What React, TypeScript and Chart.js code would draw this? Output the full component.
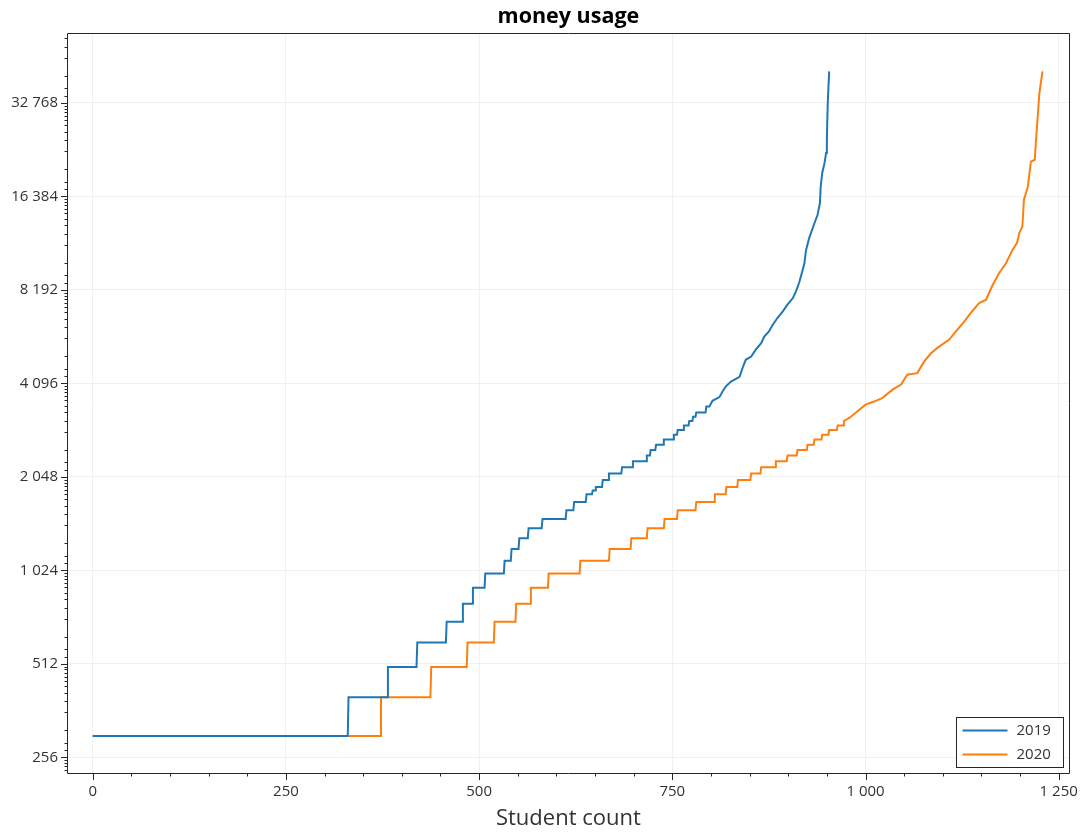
import React, { useEffect, useRef } from 'react';
import { Chart, registerables } from 'chart.js';

Chart.register(...registerables);

const chartTitle = 'money usage';
const xAxisTitle = 'Student count';
const seriesLabels = ['2019', '2020'];
const seriesColors = ['#1f77b4', '#ff7f0e'];

const students2019 = [0, 330, 331, 381, 382, 419, 420, 457, 458, 478, 479, 491, 492, 507, 508, 532, 533, 541, 542, 551, 552, 563, 564, 581, 582, 612, 613, 622, 623, 638, 639, 646, 647, 650, 651, 659, 660, 667, 668, 684, 685, 698, 699, 716, 717, 721, 722, 728, 729, 738, 739, 751, 752, 756, 757, 764, 765, 771, 772, 776, 777, 780, 781, 793, 794, 798, 802, 811, 815, 819, 826, 837, 841, 845, 852, 858, 865, 869, 875, 880, 886, 893, 899, 906, 910, 914, 917, 921, 923, 927, 934, 938, 941, 942, 944, 947, 949, 950, 951, 952, 953];
const money2019 = [300, 300, 400, 400, 500, 500, 600, 600, 700, 700, 800, 800, 900, 900, 1000, 1000, 1100, 1100, 1200, 1200, 1300, 1300, 1400, 1400, 1500, 1500, 1600, 1600, 1700, 1700, 1800, 1800, 1850, 1850, 1900, 1900, 2000, 2000, 2100, 2100, 2200, 2200, 2300, 2300, 2400, 2400, 2500, 2500, 2600, 2600, 2700, 2700, 2800, 2800, 2900, 2900, 3000, 3000, 3100, 3100, 3200, 3200, 3300, 3300, 3450, 3450, 3600, 3700, 3860, 4000, 4150, 4300, 4600, 4880, 5000, 5260, 5520, 5800, 6020, 6330, 6650, 6990, 7340, 7710, 8100, 8620, 9170, 10000, 11000, 12000, 13450, 14300, 15600, 17600, 19500, 21000, 22600, 25000, 32000, 36600, 41400];

const students2020 = [0, 372, 373, 437, 438, 484, 485, 519, 520, 547, 548, 566, 567, 589, 590, 630, 631, 668, 669, 696, 697, 717, 718, 739, 740, 756, 757, 780, 781, 804, 805, 819, 820, 834, 835, 851, 852, 864, 865, 883, 884, 898, 899, 911, 912, 924, 925, 933, 934, 943, 944, 952, 953, 963, 964, 971, 972, 979, 992, 1000, 1011, 1022, 1035, 1046, 1054, 1067, 1076, 1085, 1093, 1108, 1117, 1128, 1136, 1147, 1156, 1164, 1173, 1182, 1184, 1190, 1196, 1199, 1203, 1205, 1210, 1214, 1219, 1221, 1225, 1229];
const money2020 = [300, 300, 400, 400, 500, 500, 600, 600, 700, 700, 800, 800, 900, 900, 1000, 1000, 1100, 1100, 1200, 1200, 1300, 1300, 1400, 1400, 1500, 1500, 1600, 1600, 1700, 1700, 1800, 1800, 1900, 1900, 2000, 2000, 2100, 2100, 2200, 2200, 2300, 2300, 2400, 2400, 2500, 2500, 2600, 2600, 2700, 2700, 2800, 2800, 2900, 2900, 3000, 3000, 3100, 3170, 3370, 3500, 3580, 3680, 3910, 4060, 4370, 4420, 4820, 5130, 5330, 5660, 6020, 6490, 6900, 7430, 7620, 8450, 9290, 10000, 10250, 11000, 11600, 12500, 13100, 16000, 17600, 21200, 21500, 25600, 35300, 41400];

const xTicks = [0, 250, 500, 750, 1000, 1250];
const xMinorStep = 50;
const yTicks = [256, 512, 1024, 2048, 4096, 8192, 16384, 32768];
const xRange = [-32, 1263];
const yRange = [228, 54700];

const FONT = "'Open Sans', 'Noto Sans', sans-serif";
const TEXT = '#333333';
const FRAME = '#262626';

const fmt = (v: number) => Math.round(v).toString().replace(/\B(?=(\d{3})+(?!\d))/g, ' ');

// fractional log2 positions of minor tick marks between major ticks
const minorFractions = [0.075, 0.157, 0.29, 0.485, 0.6, 0.69, 0.76, 0.82, 0.865, 0.905, 0.94, 0.968];

const framePlugin = {
  id: 'frameAndTicks',
  afterDraw(chart: any) {
    const { ctx, chartArea } = chart;
    const { left, right, top, bottom } = chartArea;
    const xs = chart.scales.x;
    const ys = chart.scales.y;
    ctx.save();
    ctx.strokeStyle = FRAME;
    ctx.lineWidth = 1;
    ctx.beginPath();
    ctx.rect(Math.round(left) - 0.5, Math.round(top) - 0.5, Math.round(right - left) + 1, Math.round(bottom - top) + 1);
    ctx.stroke();
    ctx.beginPath();
    // x ticks
    for (let v = Math.ceil(xs.min / xMinorStep) * xMinorStep; v <= xs.max; v += xMinorStep) {
      const px = Math.round(xs.getPixelForValue(v)) + 0.5;
      const major = xTicks.includes(v);
      ctx.moveTo(px, bottom);
      ctx.lineTo(px, bottom + (major ? 7 : 3.5));
    }
    // y ticks
    for (let k = 7; k <= 16; k++) {
      const base = Math.pow(2, k);
      if (base >= ys.min && base <= ys.max) {
        const py = Math.round(ys.getPixelForValue(base)) + 0.5;
        ctx.moveTo(left, py);
        ctx.lineTo(left - 7, py);
      }
      for (const f of minorFractions) {
        const v = Math.pow(2, k + f);
        if (v >= ys.min && v <= ys.max) {
          const py = Math.round(ys.getPixelForValue(v)) + 0.5;
          ctx.moveTo(left, py);
          ctx.lineTo(left - 3.5, py);
        }
      }
    }
    ctx.stroke();

    // legend
    const bw = 107, bh = 50;
    const bx = Math.round(right) - 6 - bw + 0.5;
    const by = Math.round(bottom) - 6 - bh + 0.5;
    ctx.fillStyle = '#ffffff';
    ctx.fillRect(bx, by, bw, bh);
    ctx.strokeStyle = FRAME;
    ctx.strokeRect(bx, by, bw, bh);
    ctx.font = `15px ${FONT}`;
    ctx.textBaseline = 'middle';
    ctx.textAlign = 'left';
    chart.data.datasets.forEach((ds: any, i: number) => {
      const cy = by + 13 + i * 24;
      ctx.strokeStyle = ds.borderColor;
      ctx.lineWidth = 2;
      ctx.beginPath();
      ctx.moveTo(bx + 6, cy);
      ctx.lineTo(bx + 51, cy);
      ctx.stroke();
      ctx.fillStyle = TEXT;
      ctx.fillText(ds.label, bx + 60, cy);
    });
    ctx.restore();
  },
};

export default function App() {
  const ref = useRef<HTMLCanvasElement | null>(null);

  useEffect(() => {
    if (!ref.current) return;
    const makeData = (xs: number[], ys: number[]) => xs.map((x, i) => ({ x, y: ys[i] }));
    const chart = new Chart(ref.current, {
      type: 'line',
      data: {
        datasets: [
          {
            label: seriesLabels[0],
            data: makeData(students2019, money2019),
            borderColor: seriesColors[0],
            backgroundColor: seriesColors[0],
            borderWidth: 2,
            pointRadius: 0,
            tension: 0,
            fill: false,
          },
          {
            label: seriesLabels[1],
            data: makeData(students2020, money2020),
            borderColor: seriesColors[1],
            backgroundColor: seriesColors[1],
            borderWidth: 2,
            pointRadius: 0,
            tension: 0,
            fill: false,
          },
        ],
      },
      options: {
        responsive: false,
        animation: false,
        devicePixelRatio: 1,
        layout: { padding: { top: 0, right: 18, bottom: 0, left: 0 } },
        plugins: {
          legend: { display: false },
          tooltip: { enabled: false },
          title: {
            display: true,
            fullSize: false,
            text: chartTitle,
            color: '#000000',
            font: { family: FONT, size: 21.5, weight: 'bold', lineHeight: 1.2 },
            padding: { top: 4, bottom: 4 },
          },
        },
        scales: {
          x: {
            type: 'linear',
            position: 'bottom',
            min: xRange[0],
            max: xRange[1],
            afterFit: (s: any) => { s.height = 62; },
            afterBuildTicks: (s: any) => { s.ticks = xTicks.map((v) => ({ value: v })); },
            ticks: {
              callback: (v: any) => fmt(Number(v)),
              font: { family: FONT, size: 15 },
              color: TEXT,
              padding: 10,
              maxRotation: 0,
              autoSkip: false,
            },
            grid: { color: '#f0f0f0', drawTicks: false, lineWidth: 1 },
            border: { display: false },
            title: {
              display: true,
              text: xAxisTitle,
              color: TEXT,
              font: { family: FONT, size: 22, lineHeight: 1.2 },
              padding: { top: 0, bottom: 3 },
            },
          },
          y: {
            type: 'logarithmic',
            position: 'left',
            min: yRange[0],
            max: yRange[1],
            afterFit: (s: any) => { s.width = 68; },
            afterBuildTicks: (s: any) => { s.ticks = yTicks.map((v) => ({ value: v })); },
            ticks: {
              callback: (v: any) => fmt(Number(v)),
              font: { family: FONT, size: 15 },
              color: TEXT,
              padding: 10,
              autoSkip: false,
            },
            grid: { color: '#f0f0f0', drawTicks: false, lineWidth: 1 },
            border: { display: false },
          },
        },
      },
      plugins: [framePlugin],
    } as any);
    return () => chart.destroy();
  }, []);

  return (
    <div style={{ position: 'absolute', left: 0, top: 0, width: 1088, height: 835, background: '#ffffff' }}>
      <canvas ref={ref} width={1088} height={835} style={{ width: 1088, height: 835, display: 'block' }} />
    </div>
  );
}
